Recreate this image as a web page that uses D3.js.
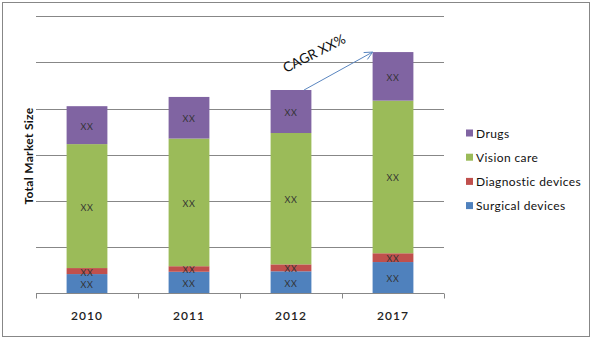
<!DOCTYPE html>
<html>
<head>
<meta charset="utf-8">
<script src="https://cdn.jsdelivr.net/npm/d3@7/dist/d3.min.js"></script>
<style>
  html, body { margin: 0; padding: 0; background: #fff; }
  svg { display: block; }
  text { font-family: Lato, "Liberation Sans", sans-serif; }
</style>
</head>
<body>
<svg id="chart" width="592" height="340"></svg>
<script>
// Market size by segment (stacked, bottom to top)
const years = ["2010", "2011", "2012", "2017"];
const surgical = [4.2, 4.7, 4.8, 6.8];
const diagnostic = [1.3, 1.2, 1.5, 1.9];
const visionCare = [26.8, 27.6, 28.4, 33.0];
const drugs = [8.2, 9.0, 9.3, 10.5];
const seriesNames = ["Surgical devices", "Diagnostic devices", "Vision care", "Drugs"];
const seriesColors = ["#4F81BD", "#C0504D", "#9BBB59", "#8064A2"];
const gridTicks = [10, 20, 30, 40, 50, 60];
const segmentLabel = "XX";
const cagrLabel = "CAGR XX%";
const yTitle = "Total Market Size";

const svg = d3.select("#chart");
const gridColor = "#878787";

// Chart frame
svg.append("rect")
  .attr("x", 2.5).attr("y", 2.5)
  .attr("width", 587).attr("height", 334)
  .attr("fill", "#fff").attr("stroke", gridColor).attr("stroke-width", 1);

const x = d3.scaleBand().domain(years).range([36, 444]).paddingInner(0.6).paddingOuter(0.3);
const y = d3.scaleLinear().domain([0, 60]).range([293.5, 16]);

// Horizontal gridlines
svg.append("g").selectAll("line")
  .data(gridTicks)
  .join("line")
  .attr("x1", 36).attr("x2", 444)
  .attr("y1", d => Math.round(y(d)) + 0.5).attr("y2", d => Math.round(y(d)) + 0.5)
  .attr("stroke", gridColor).attr("stroke-width", 1);

// Stack the series
const rows = years.map((yr, i) => ({
  year: yr,
  "Surgical devices": surgical[i],
  "Diagnostic devices": diagnostic[i],
  "Vision care": visionCare[i],
  "Drugs": drugs[i]
}));
const stacked = d3.stack().keys(seriesNames)(rows);

const layers = svg.append("g").selectAll("g")
  .data(stacked)
  .join("g")
  .attr("fill", (d, i) => seriesColors[i]);

layers.selectAll("rect")
  .data(d => d)
  .join("rect")
  .attr("x", d => x(d.data.year))
  .attr("width", x.bandwidth())
  .attr("y", d => y(d[1]))
  .attr("height", d => y(d[0]) - y(d[1]));

layers.selectAll("text")
  .data(d => d)
  .join("text")
  .attr("x", d => x(d.data.year) + x.bandwidth() / 2)
  .attr("y", d => (y(d[0]) + y(d[1])) / 2 + 4.5)
  .attr("text-anchor", "middle")
  .attr("fill", "#333")
  .attr("font-size", 9)
  .attr("letter-spacing", 0.6)
  .text(segmentLabel);

// Category axis
const xAxis = svg.append("g").attr("transform", "translate(0,293.5)");
xAxis.append("line").attr("x1", 36).attr("x2", 444).attr("y1", 0).attr("y2", 0)
  .attr("stroke", gridColor);
const boundaries = years.map(yr => x(yr) - x.step() * x.paddingInner() / 2)
  .concat([x(years[years.length - 1]) + x.bandwidth() + x.step() * x.paddingInner() / 2]);
xAxis.selectAll("line.tick")
  .data(boundaries)
  .join("line")
  .attr("class", "tick")
  .attr("x1", d => Math.round(d) + 0.5).attr("x2", d => Math.round(d) + 0.5)
  .attr("y1", 0).attr("y2", 5)
  .attr("stroke", gridColor);
xAxis.selectAll("text")
  .data(years)
  .join("text")
  .attr("x", d => x(d) + x.bandwidth() / 2)
  .attr("y", 26)
  .attr("text-anchor", "middle")
  .attr("font-size", 12)
  .attr("font-weight", 600)
  .attr("letter-spacing", 1)
  .attr("fill", "#222")
  .text(d => d);

// Vertical axis title
svg.append("text")
  .attr("transform", "translate(33,156) rotate(-90)")
  .attr("text-anchor", "middle")
  .attr("font-size", 12)
  .attr("font-weight", "bold")
  .attr("letter-spacing", 0.3)
  .attr("fill", "#111")
  .text(yTitle);

// Growth arrow from 2012 total to 2017 total
const totals = years.map((yr, i) => surgical[i] + diagnostic[i] + visionCare[i] + drugs[i]);
const i12 = years.indexOf("2012"), i17 = years.indexOf("2017");
const ax1 = x(years[i12]) + x.bandwidth() * 0.82, ay1 = y(totals[i12]);
const ax2 = x(years[i17]), ay2 = y(totals[i17]);
const arrowColor = "#5A86C0";
svg.append("line")
  .attr("x1", ax1).attr("y1", ay1).attr("x2", ax2).attr("y2", ay2)
  .attr("stroke", arrowColor).attr("stroke-width", 1);
const ang = Math.atan2(ay2 - ay1, ax2 - ax1);
const headLen = 9, headSpread = 0.45;
svg.append("path")
  .attr("d", `M${ax2 - headLen * Math.cos(ang - headSpread)},${ay2 - headLen * Math.sin(ang - headSpread)}
              L${ax2},${ay2}
              L${ax2 - headLen * Math.cos(ang + headSpread)},${ay2 - headLen * Math.sin(ang + headSpread)}`)
  .attr("fill", "none").attr("stroke", arrowColor).attr("stroke-width", 1);

svg.append("text")
  .attr("transform", "translate(286,73) rotate(-27)")
  .attr("font-size", 13.5)
  .attr("fill", "#111")
  .text(cagrLabel);

// Legend (top series first)
const legend = svg.append("g").selectAll("g")
  .data(seriesNames.map((n, i) => ({ name: n, color: seriesColors[i] })).reverse())
  .join("g")
  .attr("transform", (d, i) => `translate(466,${133 + i * 24.2})`);
legend.append("rect")
  .attr("x", 0).attr("y", -3.5).attr("width", 7).attr("height", 7)
  .attr("fill", d => d.color);
legend.append("text")
  .attr("x", 10).attr("y", 4.5)
  .attr("font-size", 12)
  .attr("letter-spacing", 0.4)
  .attr("fill", "#111")
  .text(d => d.name);
</script>
</body>
</html>
